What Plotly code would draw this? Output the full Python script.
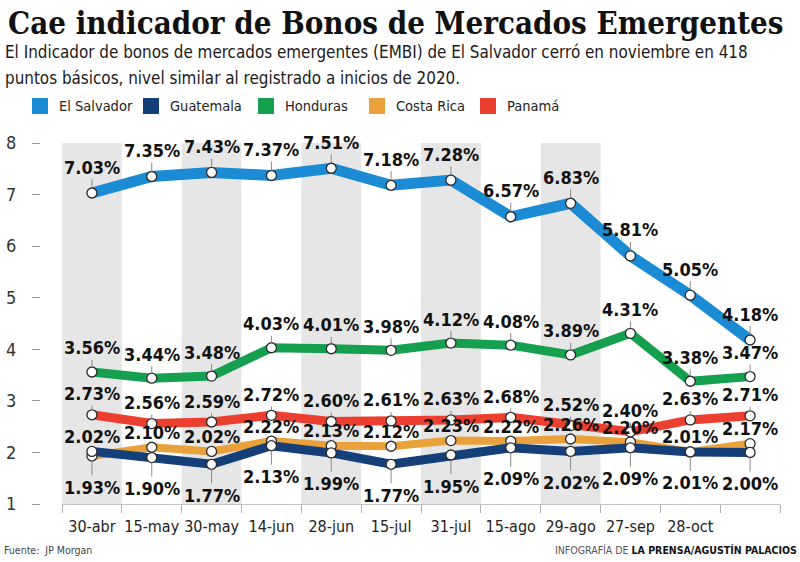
import plotly.graph_objects as go

# ---------------- data ----------------
fechas = ["30-abr", "15-may", "30-may", "14-jun", "28-jun", "15-jul",
          "31-jul", "15-ago", "29-ago", "27-sep", "28-oct", ""]
el_salvador = [7.03, 7.35, 7.43, 7.37, 7.51, 7.18, 7.28, 6.57, 6.83, 5.81, 5.05, 4.18]
guatemala = [2.02, 1.90, 1.77, 2.13, 1.99, 1.77, 1.95, 2.09, 2.02, 2.09, 2.01, 2.00]
honduras = [3.56, 3.44, 3.48, 4.03, 4.01, 3.98, 4.12, 4.08, 3.89, 4.31, 3.38, 3.47]
costa_rica = [1.93, 2.10, 2.02, 2.22, 2.13, 2.12, 2.23, 2.22, 2.26, 2.20, 2.01, 2.17]
panama = [2.73, 2.56, 2.59, 2.72, 2.60, 2.61, 2.63, 2.68, 2.52, 2.40, 2.63, 2.71]
y_ticks = [1, 2, 3, 4, 5, 6, 7, 8]
legend_names = ["El Salvador", "Guatemala", "Honduras", "Costa Rica", "Panamá"]

W, H = 800, 562
SANS = "'DejaVu Sans', sans-serif"
TITLE_FONT = "'DejaVu Serif', serif"


def cond(t, extra=""):
    return f"<span style='font-stretch:condensed;{extra}'>{t}</span>"


colors = {
    "El Salvador": "#1b8bd6",
    "Guatemala": "#143f78",
    "Honduras": "#14a04f",
    "Costa Rica": "#e9a23b",
    "Panamá": "#ec3f2f",
}
widths = {"El Salvador": 11, "Guatemala": 9, "Honduras": 9, "Costa Rica": 8, "Panamá": 9}
values = {
    "El Salvador": el_salvador,
    "Guatemala": guatemala,
    "Honduras": honduras,
    "Costa Rica": costa_rica,
    "Panamá": panama,
}
draw_order = ["Costa Rica", "Guatemala", "Panamá", "Honduras", "El Salvador"]

idx = list(range(len(fechas)))


def px(x):
    return x / W


def py(y):
    return 1 - y / H


fig = go.Figure()

for name in draw_order:
    fig.add_trace(go.Scatter(
        x=idx, y=values[name], mode="lines", name=name,
        line=dict(color=colors[name], width=widths[name]),
        cliponaxis=False, hoverinfo="skip", showlegend=False))
for name in draw_order:
    fig.add_trace(go.Scatter(
        x=idx, y=values[name], mode="markers", name=name,
        marker=dict(size=10, color="white", line=dict(color="#2a2a2a", width=1.3)),
        cliponaxis=False, showlegend=False))

annotations = []


def label_offset(name, i):
    if name == "El Salvador":
        return -26
    if name == "Honduras":
        return -24
    if name == "Panamá":
        return -21
    if name == "Costa Rica":
        return -15 if costa_rica[i] >= guatemala[i] else 31
    if name == "Guatemala":
        return -15 if guatemala[i] > costa_rica[i] else 31


for name in draw_order:
    for i, v in zip(idx, values[name]):
        annotations.append(dict(
            x=i, y=v, xref="x", yref="y", text=cond(f"<b>{v:.2f}%</b>"),
            showarrow=True, arrowhead=0, arrowwidth=1, arrowcolor="#8a8a8a",
            ax=0, ay=label_offset(name, i), standoff=5,
            font=dict(family=SANS, size=18, color="#111111")))

annotations.append(dict(
    x=px(6), y=py(3), xref="paper", yref="paper", xanchor="left", yanchor="top",
    text=cond("<b>Cae indicador de Bonos de Mercados Emergentes</b>"), showarrow=False,
    font=dict(family=TITLE_FONT, size=31, color="#111111")))
sub_lines = ["El Indicador de bonos de mercados emergentes (EMBI) de El Salvador cerró en noviembre en 418",
             "puntos básicos, nivel similar al registrado a inicios de 2020."]
for line, yc in zip(sub_lines, [52, 78]):
    annotations.append(dict(
        x=px(3), y=py(yc), xref="paper", yref="paper", xanchor="left", yanchor="middle",
        text=cond(line), showarrow=False,
        font=dict(family=SANS, size=16.9, color="#1a1a1a")))

legend_sq_x = [32, 143, 258, 369, 480]
legend_tx_x = [57, 168, 283, 394, 505]
shapes = []
for name, sx, tx in zip(legend_names, legend_sq_x, legend_tx_x):
    shapes.append(dict(type="rect", xref="paper", yref="paper",
                       x0=px(sx), x1=px(sx + 16), y0=py(114), y1=py(98),
                       fillcolor=colors[name], line=dict(width=0)))
    annotations.append(dict(x=px(tx), y=py(106), xref="paper", yref="paper",
                            xanchor="left", yanchor="middle", text=cond(name), showarrow=False,
                            font=dict(family=SANS, size=14.5, color="#222222")))

for i in idx[::2][:5]:
    shapes.append(dict(type="rect", xref="x", yref="y", x0=i - 0.5, x1=i + 0.5,
                       y0=y_ticks[0], y1=y_ticks[-1], fillcolor="#e6e6e6",
                       line=dict(width=0), layer="below"))

annotations.append(dict(x=px(2), y=py(550), xref="paper", yref="paper", xanchor="left",
                        yanchor="middle", text=cond("Fuente:  JP Morgan"), showarrow=False,
                        font=dict(family=SANS, size=10.5, color="#444444")))
annotations.append(dict(x=px(799), y=py(550), xref="paper", yref="paper", xanchor="right",
                        yanchor="middle",
                        text=cond("INFOGRAFÍA DE ", "fill:#555555") + cond("<b>LA PRENSA/AGUSTÍN PALACIOS</b>"),
                        showarrow=False, font=dict(family=SANS, size=10.5, color="#111111")))

fig.update_layout(
    width=W, height=H,
    margin=dict(l=0, r=0, t=0, b=0, autoexpand=False),
    paper_bgcolor="white", plot_bgcolor="white",
    showlegend=False,
    xaxis=dict(domain=[px(62), px(780)], range=[-0.5, len(fechas) - 0.5],
               tickvals=idx, ticktext=[cond(f) for f in fechas], ticks="", tickangle=0,
               showgrid=False, zeroline=False,
               showline=True, linecolor="#c4c4c4", linewidth=1,
               ticklabelstandoff=8,
               tickfont=dict(family=SANS, size=16, color="#222222"),
               minor=dict(tickvals=[i - 0.5 for i in range(len(fechas) + 1)],
                          ticks="outside", ticklen=8, tickcolor="#b0b0b0", tickwidth=1)),
    yaxis=dict(domain=[py(504), py(143)], range=[y_ticks[0], y_ticks[-1]],
               tickvals=y_ticks, ticktext=[cond(str(t)) for t in y_ticks],
               anchor="free", position=px(40),
               ticks="outside", ticklen=8, tickcolor="#9a9a9a", tickwidth=1,
               showgrid=False, zeroline=False, showline=False,
               ticklabelstandoff=12,
               tickfont=dict(family=SANS, size=18, color="#333333")),
    annotations=annotations,
    shapes=shapes,
)

fig.write_html("out.html", config={"displayModeBar": False},
               post_script="document.body.style.margin='0';")
